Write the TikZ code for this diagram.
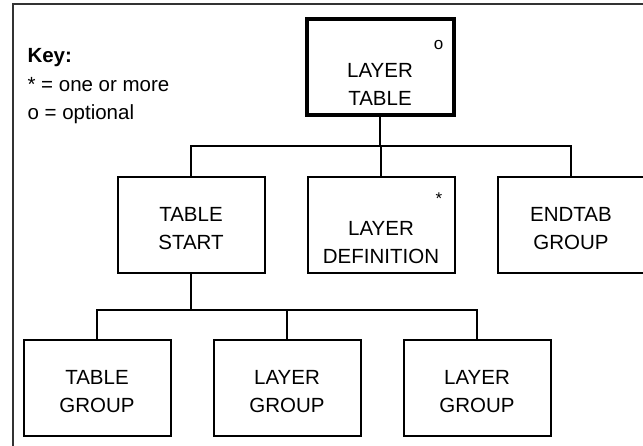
\documentclass[tikz,border=0pt]{standalone}
\usepackage{fontspec}
\setmainfont{Liberation Sans}
\usetikzlibrary{positioning}

\tikzset{
  block/.style={draw,line width=2pt,minimum width=147pt,minimum height=96pt,
    inner sep=0pt,align=center,font=\fontsize{20.5pt}{28pt}\selectfont,
    text height=49pt,text depth=0pt},
  tagged/.style={block,text height=78pt},
  tag/.style={inner sep=0pt,font=\fontsize{17pt}{17pt}\selectfont},
  link/.style={line width=2pt}
}

\begin{document}
\begin{tikzpicture}[node distance=190pt,on grid]
  \useasboundingbox (0,0) rectangle (643pt,-446pt);
  \draw[line width=2pt,black!80] (13pt,-4.5pt) rectangle (700pt,-500pt);
  % key
  \node[anchor=base west,align=left,font=\fontsize{20.5pt}{28.5pt}\selectfont] (key) at (24pt,-120pt)
    {\textbf{Key:}\\* = one or more\\o = optional};
  % tree
  \node[tagged,line width=4pt] (ltable) at (380pt,-67pt) {LAYER\\TABLE};
  \node[block] (tstart) [below left=158pt and 189pt of ltable] {TABLE\\START};
  \node[tagged] (ldef) [right=of tstart] {LAYER\\DEFINITION};
  \node[block] (endtab) [right=of ldef] {ENDTAB\\GROUP};
  \node[block] (tgroup) [below left=163pt and 94pt of tstart] {TABLE\\GROUP};
  \node[block] (lgroup) [right=of tgroup] {LAYER\\GROUP};
  \node[block] (lgroupb) [right=of lgroup] {LAYER\\GROUP};
  \node[tag] (tag_o) [below left=23pt and 12pt of ltable.north east] {o};
  \node[tag] (tag_star) [below left=17pt and 13pt of ldef.north east] {*};
  \foreach \kid in {tstart,ldef,endtab}
    \draw[link] (ltable.south) -- ++(0,-29pt) -| (\kid.north);
  \foreach \kid in {tgroup,lgroup,lgroupb}
    \draw[link] (tstart.south) -- ++(0,-36pt) -| (\kid.north);
\end{tikzpicture}
\end{document}
